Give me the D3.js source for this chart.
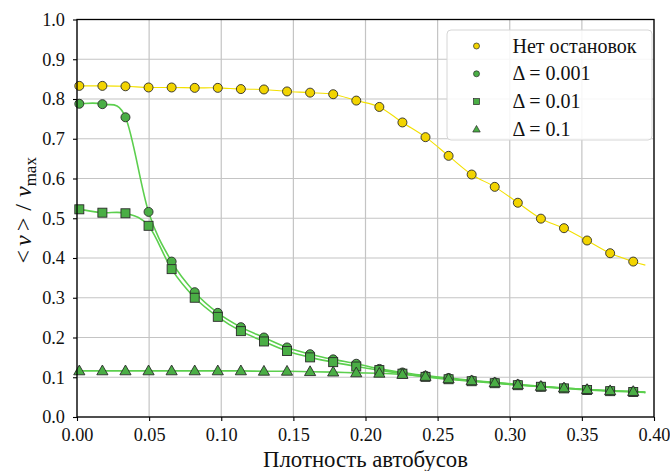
<!DOCTYPE html>
<html><head><meta charset="utf-8">
<script src="https://cdn.jsdelivr.net/npm/d3@7"></script>
<style>body{margin:0;background:#fff} text{font-family:"Liberation Serif","Times New Roman",Tinos,serif;}</style>
</head><body><svg id="c" width="670" height="471"></svg>
<script>
// ---- data ----
const density = [0.0016,0.0176,0.0336,0.0496,0.0656,0.0816,0.0976,0.1136,0.1296,0.1456,0.1616,0.1776,0.1936,0.2096,0.2256,0.2416,0.2576,0.2736,0.2896,0.3056,0.3216,0.3376,0.3536,0.3696,0.3856];
const noStops  = [0.833,0.833,0.832,0.829,0.829,0.828,0.828,0.825,0.824,0.819,0.816,0.812,0.796,0.780,0.741,0.704,0.657,0.610,0.579,0.539,0.499,0.475,0.444,0.412,0.391];
const delta001 = [0.788,0.787,0.754,0.516,0.391,0.314,0.262,0.226,0.200,0.175,0.158,0.145,0.134,0.121,0.112,0.104,0.098,0.092,0.087,0.082,0.077,0.073,0.069,0.066,0.064];
const delta01  = [0.5225,0.514,0.5125,0.481,0.372,0.300,0.252,0.216,0.190,0.166,0.150,0.138,0.127,0.118,0.109,0.101,0.095,0.090,0.085,0.080,0.076,0.072,0.068,0.065,0.063];
const delta1   = [0.116,0.116,0.116,0.116,0.116,0.116,0.116,0.116,0.115,0.115,0.114,0.113,0.111,0.110,0.107,0.102,0.096,0.091,0.086,0.081,0.077,0.073,0.069,0.066,0.064];
// fitted-curve end points (x range of the drawn smooth curves and their values there)
const curveX = [0, 0.394];
const noStopsCurveEnds  = [0.833, 0.382];
const delta001CurveEnds = [0.788, 0.062];
const delta01CurveEnds  = [0.523, 0.062];
const delta1CurveEnds   = [0.116, 0.062];
const xTicks = [0,0.05,0.10,0.15,0.20,0.25,0.30,0.35,0.40];
const yTicks = [0,0.1,0.2,0.3,0.4,0.5,0.6,0.7,0.8,0.9,1.0];
const seriesLabels = ["Нет остановок","Δ = 0.001","Δ = 0.01","Δ = 0.1"];
const xTitle = "Плотность автобусов";

// ---- layout ----
const L=77, R=654, T=19.5, B=417;
const svg = d3.select("#c");
const x = d3.scaleLinear().domain([0,0.40]).range([L,R]);
const y = d3.scaleLinear().domain([0,1.0]).range([B,T]);

// grid
svg.append("g").selectAll("line").data(xTicks).join("line")
  .attr("x1",d=>x(d)).attr("x2",d=>x(d)).attr("y1",T).attr("y2",B)
  .attr("stroke","#c4c4c4").attr("stroke-width",1.2);
svg.append("g").selectAll("line").data(yTicks).join("line")
  .attr("y1",d=>y(d)).attr("y2",d=>y(d)).attr("x1",L).attr("x2",R)
  .attr("stroke","#c4c4c4").attr("stroke-width",1.2);

const series = [
  {vals:noStops, ends:noStopsCurveEnds, line:"#f3e000", lw:1.1, fill:"#f2d400", shape:"circle", label:seriesLabels[0]},
  {vals:delta001, ends:delta001CurveEnds, line:"#5ccf4e", lw:1.6, fill:"#4aae45", shape:"circle", label:seriesLabels[1]},
  {vals:delta01, ends:delta01CurveEnds, line:"#5ccf4e", lw:1.6, fill:"#4aae45", shape:"square", label:seriesLabels[2]},
  {vals:delta1, ends:delta1CurveEnds, line:"#5ccf4e", lw:1.6, fill:"#4aae45", shape:"triangle", label:seriesLabels[3]},
];

const lineGen = d3.line().x(d=>x(d[0])).y(d=>y(d[1])).curve(d3.curveCardinal.tension(0));
const plot = svg.append("g");
function marker(g, shape, size, fill){
  if(shape==="circle") return g.append("circle").attr("r",size/2).attr("fill",fill).attr("stroke","#2a2a2a").attr("stroke-width",0.9);
  if(shape==="square") return g.append("rect").attr("x",-size/2).attr("y",-size/2).attr("width",size).attr("height",size).attr("fill",fill).attr("stroke","#2a2a2a").attr("stroke-width",0.9);
  const s=size*0.62;
  return g.append("path").attr("d",`M0,${-s*1.05}L${s},${s*0.7}L${-s},${s*0.7}Z`).attr("fill",fill).attr("stroke","#2a2a2a").attr("stroke-width",0.9);
}
series.forEach(s=>{
  const pts = [[curveX[0],s.ends[0]], ...density.map((d,i)=>[d,s.vals[i]]), [curveX[1],s.ends[1]]];
  plot.append("path").attr("d",lineGen(pts)).attr("fill","none").attr("stroke",s.line).attr("stroke-width",s.lw);
});
series.forEach(s=>{
  density.forEach((d,i)=>{
    const g = plot.append("g").attr("transform",`translate(${x(d)},${y(s.vals[i])})`);
    marker(g, s.shape, 9, s.fill);
  });
});

// frame
svg.append("rect").attr("x",L).attr("y",T).attr("width",R-L).attr("height",B-T)
  .attr("fill","none").attr("stroke","#000").attr("stroke-width",1.3);

// axes
const xa = svg.append("g").attr("transform",`translate(0,${B})`)
  .call(d3.axisBottom(x).tickValues(xTicks).tickFormat(d3.format(".2f")).tickSize(4).tickPadding(7));
const ya = svg.append("g").attr("transform",`translate(${L},0)`)
  .call(d3.axisLeft(y).tickValues(yTicks).tickFormat(d3.format(".1f")).tickSize(4).tickPadding(8));
[xa,ya].forEach(a=>{
  a.attr("font-family",null);
  a.select(".domain").remove();
  a.selectAll("line").attr("stroke","#000").attr("stroke-width",1.1);
  a.selectAll("text").attr("font-size",18.3).attr("fill","#111");
});

// axis titles
svg.append("text").attr("x",(L+R)/2).attr("y",467).attr("text-anchor","middle")
  .attr("font-size",22.8).attr("fill","#111").text(xTitle);
const yt = svg.append("text").attr("transform",`translate(31,${(T+B)/2 - 8}) rotate(-90)`)
  .attr("text-anchor","middle").attr("font-size",24).attr("fill","#111");
yt.append("tspan").text("<");
yt.append("tspan").attr("font-style","italic").attr("dx",4).text("v");
yt.append("tspan").attr("dx",4).text(">");
yt.append("tspan").attr("dx",7).text("/");
yt.append("tspan").attr("font-style","italic").attr("dx",7).text("v");
yt.append("tspan").attr("font-size",17).attr("dy",5).text("max");

// legend
const lg = svg.append("g");
lg.append("rect").attr("x",447).attr("y",30).attr("width",205).attr("height",110).attr("rx",4)
  .attr("fill","#fff").attr("fill-opacity",0.85).attr("stroke","#d6d6d6").attr("stroke-width",1);
series.forEach((s,i)=>{
  const cy = 46 + i*27.8;
  const g = lg.append("g").attr("transform",`translate(476.5,${cy})`);
  marker(g, s.shape, 6, s.fill).attr("stroke-width",0.7);
  lg.append("text").attr("x",512.5).attr("y",cy+6.5).attr("font-size",20)
    .attr("fill","#111").text(s.label);
});
</script></body></html>
